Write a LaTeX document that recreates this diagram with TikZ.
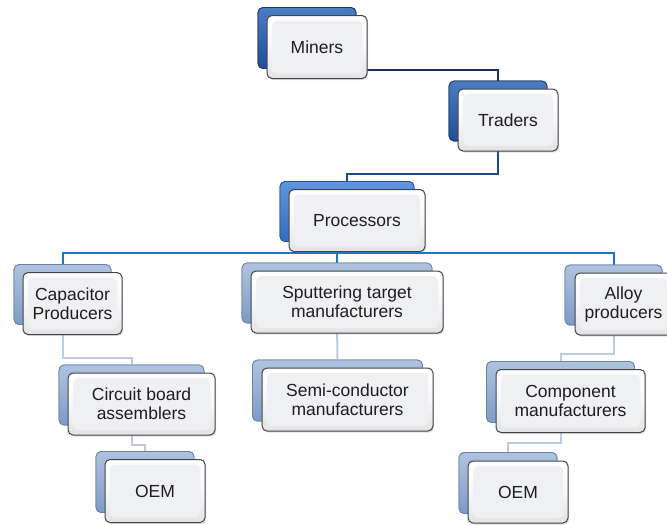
\documentclass[tikz,border=0pt]{standalone}
\usepackage{fontspec}
\setmainfont{Liberation Sans}
\usetikzlibrary{shadows}
\definecolor{txt}{RGB}{30,30,30}
\definecolor{frontedge}{RGB}{65,68,75}
\definecolor{inner}{RGB}{239,240,244}
\definecolor{darkT}{RGB}{75,125,195}
\definecolor{darkB}{RGB}{32,78,150}
\definecolor{darkE}{RGB}{30,55,100}
\definecolor{midT}{RGB}{95,150,220}
\definecolor{midB}{RGB}{50,108,190}
\definecolor{midE}{RGB}{40,85,155}
\definecolor{paleT}{RGB}{175,195,222}
\definecolor{paleB}{RGB}{125,155,198}
\definecolor{paleE}{RGB}{105,130,170}
\definecolor{cA}{RGB}{28,50,92}
\definecolor{cB}{RGB}{32,72,135}
\definecolor{cC}{RGB}{30,115,205}
\definecolor{cD}{RGB}{188,203,226}
\begin{document}
\begin{tikzpicture}[x=1pt,y=-1pt,
  box/.style={rectangle, rounded corners=5pt, inner sep=0pt, align=center,
    font=\fontsize{17.5}{19}\selectfont, text=txt},
  front/.style={box, draw=frontedge, line width=1pt,
    top color=white, bottom color=gray!22, middle color=gray!6,
    drop shadow={opacity=0.25, shadow xshift=1.2pt, shadow yshift=-1.5pt},
    path picture={\fill[inner]
      ([shift={(5pt,5pt)}]path picture bounding box.south west) rectangle
      ([shift={(-5pt,-5pt)}]path picture bounding box.north east);}},
  backdark/.style={box, draw=darkE, line width=0.8pt, top color=darkT, bottom color=darkB},
  backmid/.style={box, draw=midE, line width=0.8pt, top color=midT, bottom color=midB},
  backpale/.style={box, draw=paleE, line width=0.8pt, top color=paleT, bottom color=paleB},
  conA/.style={draw=cA, line width=2pt},
  conB/.style={draw=cB, line width=2pt},
  conC/.style={draw=cC, line width=2pt},
  conD/.style={draw=cD, line width=2pt},
]
\useasboundingbox[fill=white] (0,0) rectangle (667,525);

% back boxes
\node[backdark, minimum width=98pt, minimum height=61pt] (mB) at (307,38) {};
\node[backdark, minimum width=98pt, minimum height=60pt] (tB) at (498,111) {};
\node[backmid, minimum width=134pt, minimum height=60pt] (pB) at (347,211.5) {};
\node[backpale, minimum width=97pt, minimum height=60pt] (cB) at (62.5,294.5) {};
\node[backpale, minimum width=190pt, minimum height=60pt] (sB) at (337,293) {};
\node[backpale, minimum width=97pt, minimum height=60pt] (aB) at (613.5,295) {};
\node[backpale, minimum width=145pt, minimum height=60pt] (ciB) at (131.5,395) {};
\node[backpale, minimum width=98pt, minimum height=61pt] (o1B) at (145,482) {};
\node[backpale, minimum width=170pt, minimum height=61pt] (smB) at (337.5,390.5) {};
\node[backpale, minimum width=148pt, minimum height=61pt] (coB) at (560.5,392) {};
\node[backpale, minimum width=98pt, minimum height=61pt] (o2B) at (508,483) {};

% connectors
\draw[conA] ([yshift=-32pt]mB.east) -| (tB.north);
\draw[conB] (tB.south) -- (tB.south |- 0,174) -| (pB.north);
\draw[conC] (pB.south) -- (pB.south |- 0,253);
\draw[conC] (cB.north) |- (aB.north |- 0,253) -- (aB.north);
\draw[conC] (sB.north |- 0,253) -- (sB.north);
\draw[conD] (cB.south) -- (cB.south |- 0,358) -| (ciB.north);
\draw[conD] (ciB.south) -- (ciB.south |- 0,445) -| (o1B.north);
\draw[conD] (sB.south) -- (smB.north);
\draw[conD] (aB.south) -- (aB.south |- 0,354) -| (coB.north);
\draw[conD] (coB.south) -- (coB.south |- 0,443) -| (o2B.north);

% redraw back boxes over connector ends
\node[backdark, minimum width=98pt, minimum height=61pt] at (mB) {};
\node[backdark, minimum width=98pt, minimum height=60pt] at (tB) {};
\node[backmid, minimum width=134pt, minimum height=60pt] at (pB) {};
\node[backpale, minimum width=97pt, minimum height=60pt] at (cB) {};
\node[backpale, minimum width=190pt, minimum height=60pt] at (sB) {};
\node[backpale, minimum width=97pt, minimum height=60pt] at (aB) {};
\node[backpale, minimum width=145pt, minimum height=60pt] at (ciB) {};
\node[backpale, minimum width=98pt, minimum height=61pt] at (o1B) {};
\node[backpale, minimum width=170pt, minimum height=61pt] at (smB) {};
\node[backpale, minimum width=148pt, minimum height=61pt] at (coB) {};
\node[backpale, minimum width=98pt, minimum height=61pt] at (o2B) {};

% front boxes
\node[front, minimum width=100pt, minimum height=63pt] (miners) at (317,47) {Miners};
\node[front, minimum width=100pt, minimum height=62pt] (traders) at (508,120) {Traders};
\node[front, minimum width=136pt, minimum height=62pt] (proc) at (357,220.5) {Processors};
\node[front, minimum width=99pt, minimum height=62pt] (cap) at (72.5,303.5) {Capacitor\\Producers};
\node[front, minimum width=192pt, minimum height=62pt] (sput) at (347,302) {Sputtering target\\manufacturers};
\node[front, minimum width=97pt, minimum height=62pt] (alloy) at (623.5,304) {Alloy\\producers};
\node[front, minimum width=147pt, minimum height=62pt] (circ) at (141.5,404) {Circuit board\\assemblers};
\node[front, minimum width=100pt, minimum height=63pt] (oem1) at (155,491) {OEM};
\node[front, minimum width=171pt, minimum height=63pt] (semi) at (347.5,399.5) {Semi-conductor\\manufacturers};
\node[front, minimum width=149pt, minimum height=63pt] (comp) at (570.5,401) {Component\\manufacturers};
\node[front, minimum width=100pt, minimum height=62pt] (oem2) at (518,492) {OEM};
\end{tikzpicture}
\end{document}
